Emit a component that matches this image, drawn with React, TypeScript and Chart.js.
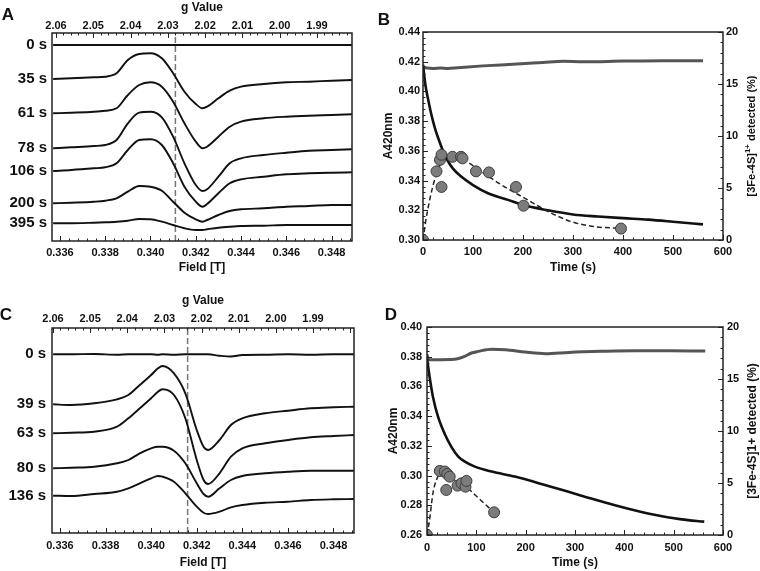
import React, { useEffect, useRef } from "react";
import { Chart, registerables } from "chart.js";
Chart.register(...registerables);

const FONT = '"Liberation Sans", Arial, Helvetica, sans-serif';
const INK = "#111";

// ---------------- Panel A : EPR spectra (field in T, intensity in a.u.) ----------------
const fieldA = [0.3357, 0.3365, 0.3375, 0.338, 0.3385, 0.339, 0.3395, 0.34, 0.3405, 0.341, 0.3415, 0.342, 0.3423, 0.3425, 0.343, 0.3435, 0.344, 0.345, 0.346, 0.347, 0.348, 0.3489];
const labelsA = ["0 s", "35 s", "61 s", "78 s", "106 s", "200 s", "395 s"];
const eprA_0s = [196, 196, 196, 196, 196, 196, 196, 196, 196, 196, 196, 196, 196, 196, 196, 196, 196, 196, 196, 196, 196, 196];
const eprA_35s = [162.0, 162.7, 163.7, 164.3, 167.7, 181.0, 187.0, 187.7, 182.7, 167.7, 149.3, 137.0, 132.7, 134.3, 142.7, 150.3, 154.3, 157.0, 158.7, 159.3, 160.3, 161.0];
const eprA_61s = [127.7, 128.3, 129.3, 130.3, 132.7, 146.0, 156.0, 158.7, 154.3, 139.3, 117.7, 99.3, 92.7, 94.3, 104.3, 114.3, 119.3, 122.7, 124.3, 125.3, 126.0, 126.7];
const eprA_78s = [92.7, 93.7, 95.0, 96.0, 101.0, 117.7, 128.3, 129.3, 123.7, 104.3, 77.7, 56.0, 50.0, 51.7, 64.3, 77.7, 82.7, 86.0, 88.3, 90.3, 91.0, 91.7];
const eprA_106s = [70.0, 71.0, 72.7, 73.7, 77.7, 91.0, 101.0, 101.7, 96.0, 77.7, 54.3, 39.3, 34.3, 37.0, 47.7, 57.7, 61.7, 64.3, 66.7, 67.7, 68.3, 68.7];
const eprA_200s = [37.7, 38.3, 39.3, 40.3, 42.7, 49.3, 55.0, 54.3, 50.3, 39.3, 28.3, 21.7, 19.3, 21.0, 26.0, 30.0, 31.7, 32.7, 34.3, 35.0, 36.0, 36.0];
const eprA_395s = [17.7, 17.7, 18.3, 18.7, 19.3, 20.3, 22.0, 21.7, 19.3, 16.0, 12.7, 11.0, 11.0, 11.7, 13.3, 14.3, 15.0, 15.3, 16.0, 16.0, 16.0, 16.0];
const markerA = 0.3411;

// ---------------- Panel C : EPR spectra ----------------
const fieldC = [0.3357, 0.3365, 0.3375, 0.3385, 0.339, 0.3395, 0.34, 0.3403, 0.3405, 0.341, 0.3415, 0.342, 0.3423, 0.3425, 0.343, 0.3435, 0.344, 0.345, 0.346, 0.347, 0.348, 0.3489];
const labelsC = ["0 s", "39 s", "63 s", "80 s", "136 s"];
const eprC_0s = [178.7, 178.7, 179.0, 178.3, 178.7, 178.7, 178.7, 178.3, 178.7, 178.3, 178.7, 178.7, 178.7, 178.7, 177.3, 176.5, 178.0, 178.3, 178.7, 178.3, 178.7, 178.7];
const eprC_39s = [128.7, 128.0, 129.7, 133.7, 138.0, 148.0, 158.0, 164.7, 167.0, 159.7, 139.7, 103.0, 86.3, 83.0, 93.0, 108.0, 114.7, 119.7, 122.3, 124.7, 125.7, 126.3];
const eprC_63s = [99.7, 100.3, 101.3, 106.3, 114.7, 124.7, 134.7, 141.3, 143.7, 138.0, 114.7, 73.0, 53.0, 49.0, 59.7, 76.3, 84.7, 89.7, 93.0, 95.7, 97.0, 98.0];
const eprC_80s = [64.7, 65.3, 66.3, 69.7, 73.0, 79.7, 84.7, 86.3, 86.3, 82.3, 69.7, 49.7, 39.0, 36.3, 44.7, 53.0, 57.0, 59.7, 61.3, 62.3, 62.3, 62.3];
const eprC_136s = [37.3, 37.0, 39.0, 41.3, 44.7, 49.7, 54.7, 57.0, 56.3, 51.3, 39.7, 26.3, 20.3, 19.0, 21.3, 25.7, 28.0, 30.3, 31.3, 33.0, 33.7, 34.0];
const markerC = 0.3416;

// g-value tick labels shown on the top axes
const gLabelsShown = [2.06, 2.05, 2.04, 2.03, 2.02, 2.01, 2.0, 1.99];

// ---------------- Panel B : kinetics ----------------
const timeGrayB = [0, 8, 20, 35, 50, 70, 120, 180, 240, 280, 320, 400, 480, 560];
const grayB = [0.4165, 0.4158, 0.4155, 0.4158, 0.4155, 0.416, 0.4172, 0.4183, 0.4195, 0.4203, 0.42, 0.4204, 0.4207, 0.4207];
const timeDecayB = [0, 5, 10, 15, 20, 25, 30, 40, 50, 60, 75, 100, 130, 170, 200, 250, 300, 350, 400, 450, 500, 560];
const decayB = [0.418, 0.404, 0.395, 0.387, 0.38, 0.374, 0.369, 0.36, 0.353, 0.348, 0.343, 0.337, 0.3315, 0.327, 0.3235, 0.32, 0.3172, 0.3158, 0.3147, 0.3137, 0.3123, 0.3105];
const timePointsB = [0, 27, 34, 37, 37, 59, 76, 79, 106, 132, 186, 201, 396];
const pointsB = [0, 6.6, 7.7, 8.2, 5.1, 8.0, 8.0, 7.85, 6.6, 6.5, 5.1, 3.3, 1.1];
const timeFitB = [0, 4, 14, 24, 34, 44, 61, 77, 117, 157, 204, 251, 297, 344, 396];
const fitB = [0, 1.4, 4.0, 5.9, 7.2, 7.85, 8.07, 7.85, 6.57, 5.3, 4.0, 2.72, 1.76, 1.28, 1.12];

// ---------------- Panel D : kinetics ----------------
const timeGrayD = [0, 3, 30, 62, 75, 90, 104, 131, 159, 199, 240, 288, 355, 423, 491, 564];
const grayD = [0.3815, 0.378, 0.378, 0.3786, 0.38, 0.3825, 0.3836, 0.3851, 0.3847, 0.3831, 0.382, 0.3829, 0.3836, 0.384, 0.384, 0.3838];
const timeDecayD = [0, 5, 12, 22, 36, 50, 63, 76, 97, 131, 178, 246, 313, 381, 448, 516, 562];
const decayD = [0.379, 0.367, 0.353, 0.34, 0.328, 0.319, 0.313, 0.3095, 0.306, 0.3027, 0.2993, 0.293, 0.2865, 0.28, 0.2745, 0.2705, 0.269];
const timePointsD = [0, 26, 36, 39, 41, 46, 62, 70, 78, 80, 136];
const pointsD = [0, 6.16, 6.1, 4.33, 5.87, 5.61, 4.75, 4.97, 4.65, 5.2, 2.18];
const timeFitD = [0, 5, 12, 19, 29, 40, 55, 70, 85, 110, 136];
const fitD = [0, 1.4, 4.0, 5.3, 5.95, 5.85, 5.3, 4.9, 4.4, 3.3, 2.18];

// ------------------------------------------------------------
const toXY = (xs: number[], ys: number[]) => xs.map((x, i) => ({ x, y: ys[i] }));
const tickFont = { family: FONT, size: 11, weight: "bold" as const };
const titleFont = { family: FONT, size: 12, weight: "bold" as const };

type TickSpec = { id: string; edge: "top" | "bottom" | "left" | "right"; major: number; minor: number };
type Decor = {
  letter: { text: string; x: number; y: number };
  ticks: TickSpec[];
  traceLabels?: { right: number; items: { text: string; ds: number }[] };
  rightTitle?: { x: number; parts: { t: string; size: number; dy: number }[] };
};

function makeDecor(cfg: Decor) {
  return {
    id: "decor",
    afterDatasetsDraw(chart: any) {
      const ctx = chart.ctx;
      const a = chart.chartArea;
      ctx.save();
      ctx.strokeStyle = "#222";
      ctx.lineWidth = 1;
      for (const t of cfg.ticks) {
        const s = chart.scales[t.id];
        const lo = Math.min(s.min, s.max);
        const hi = Math.max(s.min, s.max);
        const ratio = Math.round(t.major / t.minor);
        const n0 = Math.ceil(lo / t.minor - 1e-6);
        const n1 = Math.floor(hi / t.minor + 1e-6);
        for (let n = n0; n <= n1; n++) {
          const len = n % ratio === 0 ? 5 : 2.5;
          const p = Math.round(s.getPixelForValue(n * t.minor)) + 0.5;
          ctx.beginPath();
          if (t.edge === "bottom") { ctx.moveTo(p, a.bottom); ctx.lineTo(p, a.bottom - len); }
          else if (t.edge === "top") { ctx.moveTo(p, a.top); ctx.lineTo(p, a.top + len); }
          else if (t.edge === "left") { ctx.moveTo(a.left, p); ctx.lineTo(a.left + len, p); }
          else { ctx.moveTo(a.right, p); ctx.lineTo(a.right - len, p); }
          ctx.stroke();
        }
      }
      ctx.lineWidth = 1.5;
      ctx.strokeRect(a.left, a.top, a.right - a.left, a.bottom - a.top);
      ctx.restore();
    },
    afterDraw(chart: any) {
      const ctx = chart.ctx;
      const a = chart.chartArea;
      ctx.save();
      ctx.fillStyle = INK;
      ctx.font = `bold 17px ${FONT}`;
      ctx.textAlign = "center";
      ctx.textBaseline = "middle";
      ctx.fillText(cfg.letter.text, cfg.letter.x, cfg.letter.y);
      if (cfg.traceLabels) {
        const tl = cfg.traceLabels;
        ctx.font = `bold 15px ${FONT}`;
        ctx.textAlign = "right";
        const ys = chart.scales.y;
        tl.items.forEach(({ text, ds }) => {
          const v = chart.data.datasets[ds].data[0].y;
          ctx.fillText(text, tl.right, ys.getPixelForValue(v));
        });
      }
      if (cfg.rightTitle) {
        const rt = cfg.rightTitle;
        let total = 0;
        const widths: number[] = [];
        for (const p of rt.parts) {
          ctx.font = `bold ${p.size}px ${FONT}`;
          const w = ctx.measureText(p.t).width;
          widths.push(w);
          total += w;
        }
        ctx.translate(rt.x, (a.top + a.bottom) / 2);
        ctx.rotate(-Math.PI / 2);
        ctx.textAlign = "left";
        ctx.textBaseline = "middle";
        let x = -total / 2;
        rt.parts.forEach((p, i) => {
          ctx.font = `bold ${p.size}px ${FONT}`;
          ctx.fillText(p.t, x, p.dy);
          x += widths[i];
        });
      }
      ctx.restore();
    },
  };
}

type EprOpts = {
  field: number[];
  traces: number[][];
  labels: string[];
  marker: number;
  fMin: number; fMax: number;
  gMin: number; gMax: number;
  yMax: number;
  padding: { left: number; right: number; top: number; bottom: number };
  topH: number; botH: number; topPad: number; botPad: number;
  letter: { text: string; x: number; y: number };
  labelRight: number;
};

function eprConfig(o: EprOpts): any {
  const datasets: any[] = o.traces.map((ys) => ({
    data: toXY(o.field, ys),
    borderColor: INK,
    borderWidth: 1.9,
    pointRadius: 0,
    cubicInterpolationMode: "monotone",
    fill: false,
  }));
  datasets.push({
    data: [{ x: o.marker, y: 0 }, { x: o.marker, y: o.yMax }],
    borderColor: "#777",
    borderWidth: 1.5,
    borderDash: [6, 3],
    pointRadius: 0,
    fill: false,
  });
  return {
    type: "line",
    data: { datasets },
    options: {
      animation: false,
      responsive: false,
      maintainAspectRatio: false,
      layout: { padding: o.padding },
      plugins: { legend: { display: false }, tooltip: { enabled: false } },
      scales: {
        x: {
          type: "linear",
          position: "bottom",
          min: o.fMin,
          max: o.fMax,
          grid: { display: false, drawTicks: false },
          border: { display: false },
          ticks: { stepSize: 0.002, includeBounds: false, autoSkip: false, maxRotation: 0, padding: o.botPad, font: tickFont, color: INK, callback: (v: number) => v.toFixed(3) },
          title: { display: true, text: "Field [T]", font: titleFont, color: INK, padding: 0 },
          afterFit: (s: any) => { s.height = o.botH; },
        },
        g: {
          type: "linear",
          axis: "x",
          position: "top",
          reverse: true,
          min: o.gMin,
          max: o.gMax,
          grid: { display: false, drawTicks: false },
          border: { display: false },
          ticks: {
            stepSize: 0.01, includeBounds: false, autoSkip: false, maxRotation: 0, padding: o.topPad, font: tickFont, color: INK,
            callback: (v: number) => (gLabelsShown.some((g) => Math.abs(g - v) < 1e-6) ? v.toFixed(2) : ""),
          },
          title: { display: true, text: "g Value", font: titleFont, color: INK, padding: 0 },
          afterFit: (s: any) => { s.height = o.topH; },
        },
        y: { display: false, min: 0, max: o.yMax },
      },
    },
    plugins: [
      makeDecor({
        letter: o.letter,
        ticks: [
          { id: "x", edge: "bottom", major: 0.002, minor: 0.0004 },
          { id: "g", edge: "top", major: 0.01, minor: 0.002 },
        ],
        traceLabels: { right: o.labelRight, items: o.labels.map((t, i) => ({ text: t, ds: i })) },
      }),
    ],
  };
}

type KinOpts = {
  tPts: number[]; pts: number[];
  tFit: number[]; fit: number[];
  tDec: number[]; dec: number[];
  tGray: number[]; gray: number[];
  yMin: number; yMax: number;
  padding: { left: number; right: number; top: number; bottom: number };
  leftW: number; rightW: number; botH: number;
  leftPad: number; rightPad: number; botPad: number;
  letter: { text: string; x: number; y: number };
  rightTitle: { x: number; parts: { t: string; size: number; dy: number }[] };
};

function kinConfig(o: KinOpts): any {
  return {
    type: "line",
    data: {
      datasets: [
        { data: toXY(o.tPts, o.pts), yAxisID: "y2", showLine: false, pointRadius: 5.5, pointBackgroundColor: "#7c7c7c", pointBorderColor: "#3c3c3c", pointBorderWidth: 1 },
        { data: toXY(o.tFit, o.fit), yAxisID: "y2", borderColor: "#222", borderWidth: 1.5, borderDash: [5, 3], pointRadius: 0, cubicInterpolationMode: "monotone", fill: false },
        { data: toXY(o.tDec, o.dec), yAxisID: "y", borderColor: INK, borderWidth: 2.6, pointRadius: 0, cubicInterpolationMode: "monotone", fill: false },
        { data: toXY(o.tGray, o.gray), yAxisID: "y", borderColor: "#555", borderWidth: 3, pointRadius: 0, cubicInterpolationMode: "monotone", fill: false },
      ],
    },
    options: {
      animation: false,
      responsive: false,
      maintainAspectRatio: false,
      layout: { padding: o.padding },
      plugins: { legend: { display: false }, tooltip: { enabled: false } },
      scales: {
        x: {
          type: "linear",
          position: "bottom",
          min: 0,
          max: 600,
          grid: { display: false, drawTicks: false },
          border: { display: false },
          ticks: { stepSize: 100, autoSkip: false, maxRotation: 0, padding: o.botPad, font: tickFont, color: INK },
          title: { display: true, text: "Time (s)", font: titleFont, color: INK, padding: 0 },
          afterFit: (s: any) => { s.height = o.botH; },
        },
        y: {
          type: "linear",
          position: "left",
          min: o.yMin,
          max: o.yMax,
          grid: { display: false, drawTicks: false },
          border: { display: false },
          ticks: { stepSize: 0.02, autoSkip: false, padding: o.leftPad, font: tickFont, color: INK, callback: (v: number) => v.toFixed(2) },
          title: { display: true, text: "A420nm", font: titleFont, color: INK, padding: 0 },
          afterFit: (s: any) => { s.width = o.leftW; },
        },
        y2: {
          type: "linear",
          position: "right",
          min: 0,
          max: 20,
          grid: { display: false, drawTicks: false },
          border: { display: false },
          ticks: { stepSize: 5, autoSkip: false, padding: o.rightPad, font: tickFont, color: INK },
          afterFit: (s: any) => { s.width = o.rightW; },
        },
      },
    },
    plugins: [
      makeDecor({
        letter: o.letter,
        ticks: [
          { id: "x", edge: "bottom", major: 100, minor: 20 },
          { id: "y", edge: "left", major: 0.02, minor: 0.004 },
          { id: "y2", edge: "right", major: 5, minor: 1 },
        ],
        rightTitle: o.rightTitle,
      }),
    ],
  };
}

function Panel(props: { left: number; top: number; width: number; height: number; make: () => any }) {
  const ref = useRef<HTMLCanvasElement>(null);
  useEffect(() => {
    const chart = new Chart(ref.current as HTMLCanvasElement, props.make());
    return () => chart.destroy();
  }, []);
  return (
    <canvas
      ref={ref}
      width={props.width}
      height={props.height}
      style={{ position: "absolute", left: props.left, top: props.top, width: props.width, height: props.height }}
    />
  );
}

export default function App() {
  return (
    <div style={{ position: "absolute", left: 0, top: 0, width: 760, height: 571, background: "#fff", overflow: "hidden" }}>
      <Panel
        left={0} top={0} width={370} height={285}
        make={() =>
          eprConfig({
            field: fieldA,
            traces: [eprA_0s, eprA_35s, eprA_61s, eprA_78s, eprA_106s, eprA_200s, eprA_395s],
            labels: labelsA,
            marker: markerA,
            fMin: 0.33565, fMax: 0.3489,
            gMin: 1.98061, gMax: 2.06107,
            yMax: 208,
            padding: { left: 52, right: 18, top: 0, bottom: 10 },
            topH: 33, botH: 34, topPad: 0, botPad: 5,
            letter: { text: "A", x: 8, y: 15 },
            labelRight: 47,
          })
        }
      />
      <Panel
        left={370} top={0} width={390} height={285}
        make={() =>
          kinConfig({
            tPts: timePointsB, pts: pointsB,
            tFit: timeFitB, fit: fitB,
            tDec: timeDecayB, dec: decayB,
            tGray: timeGrayB, gray: grayB,
            yMin: 0.3, yMax: 0.44,
            padding: { left: 11, right: 0, top: 32, bottom: 10 },
            leftW: 42, rightW: 37, botH: 35,
            leftPad: 3, rightPad: 3, botPad: 5,
            letter: { text: "B", x: 14, y: 20 },
            rightTitle: { x: 382, parts: [ { t: "[3Fe-4S]", size: 11, dy: 0 }, { t: "1+", size: 8, dy: -4 }, { t: " detected (%)", size: 11, dy: 0 } ] },
          })
        }
      />
      <Panel
        left={0} top={285} width={370} height={286}
        make={() =>
          eprConfig({
            field: fieldC,
            traces: [eprC_0s, eprC_39s, eprC_63s, eprC_80s, eprC_136s],
            labels: labelsC,
            marker: markerC,
            fMin: 0.33565, fMax: 0.3489,
            gMin: 1.97896, gMax: 2.06027,
            yMax: 205,
            padding: { left: 52, right: 16, top: 8, bottom: 1 },
            topH: 35, botH: 37, topPad: 2, botPad: 6,
            letter: { text: "C", x: 6, y: 30 },
            labelRight: 46,
          })
        }
      />
      <Panel
        left={370} top={285} width={390} height={286}
        make={() =>
          kinConfig({
            tPts: timePointsD, pts: pointsD,
            tFit: timeFitD, fit: fitD,
            tDec: timeDecayD, dec: decayD,
            tGray: timeGrayD, gray: grayD,
            yMin: 0.26, yMax: 0.4,
            padding: { left: 16, right: 0, top: 42, bottom: 1 },
            leftW: 41, rightW: 37, botH: 35,
            leftPad: 5, rightPad: 4, botPad: 6,
            letter: { text: "D", x: 21, y: 30 },
            rightTitle: { x: 383, parts: [ { t: "[3Fe-4S]1+ detected (%)", size: 12, dy: 0 } ] },
          })
        }
      />
    </div>
  );
}
